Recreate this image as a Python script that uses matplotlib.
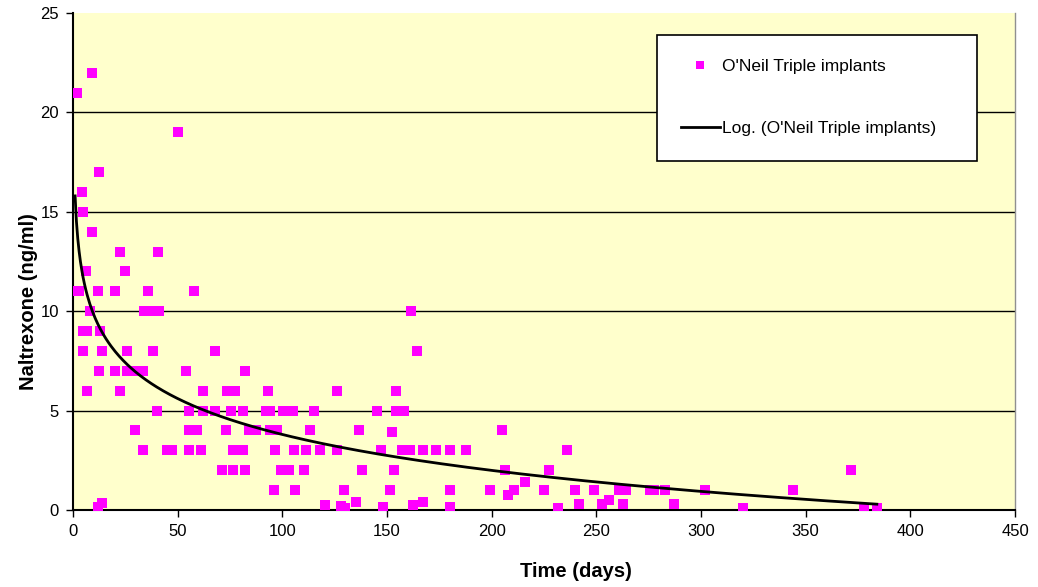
import numpy as np
import matplotlib
matplotlib.use('Agg')
import matplotlib.pyplot as plt

# O'Neil triple implants: days after implant vs naltrexone level (ng/ml)
days = [9, 1, 2, 50, 12.4, 4.4, 5, 9, 22.5, 40.6, 6.2, 25,
        1, 3, 12, 20, 36, 58,
        8, 34, 37, 41, 161.6,
        4.8, 6.7, 13,
        5, 14, 26, 38, 68, 164.5,
        12.5, 20, 26, 30, 33.5, 54, 82,
        6.5, 22.5, 62, 73.6, 77.5, 93, 126, 154.5,
        40, 55.5, 62, 68, 75.5, 81, 92, 94, 100.5, 105, 115, 145, 154.5, 158,
        29.6, 55.5, 59, 73, 84, 87.5, 94, 97.5, 113, 136.5, 152.5, 204.7,
        33.5, 45, 47.5, 55.5, 61, 76.5, 81, 96.6, 105.7, 111.4, 118, 126,
        147, 157, 161, 167, 173.6, 180, 187.5, 235.8,
        71, 76.5, 82, 99.5, 103, 110.5, 138, 153.5, 206.6, 227.6, 371.6,
        215.7,
        96, 106, 129.6, 151.6, 180, 199.4, 210.5, 225, 239.6, 248.7, 261, 264,
        275.5, 277.4, 282.6, 301.8, 344,
        208, 255.9,
        14, 120.5, 135, 162.6, 167, 241.5, 252.5, 262.5, 287,
        12, 128, 130, 148, 180, 231.5, 320, 378, 384]
naltrexone = [22, 21, 21, 19, 17, 16, 15, 14, 13, 13, 12, 12,
              11, 11, 11, 11, 11, 11,
              10, 10, 10, 10, 10,
              9, 9, 9,
              8, 8, 8, 8, 8, 8,
              7, 7, 7, 7, 7, 7, 7,
              6, 6, 6, 6, 6, 6, 6, 6,
              5, 5, 5, 5, 5, 5, 5, 5, 5, 5, 5, 5, 5, 5,
              4, 4, 4, 4, 4, 4, 4, 4, 4, 4, 3.9, 4,
              3, 3, 3, 3, 3, 3, 3, 3, 3, 3, 3, 3,
              3, 3, 3, 3, 3, 3, 3, 3,
              2, 2, 2, 2, 2, 2, 2, 2, 2, 2, 2,
              1.4,
              1, 1, 1, 1, 1, 1, 1, 1, 1, 1, 1, 1,
              1, 1, 1, 1, 1,
              0.75, 0.5,
              0.35, 0.25, 0.4, 0.25, 0.4, 0.3, 0.3, 0.3, 0.3,
              0.15, 0.2, 0.1, 0.15, 0.15, 0.1, 0.1, 0.1, 0.1]

# Excel logarithmic trendline y = a*ln(x) + b
trend_a = -2.606
trend_b = 15.8
trend_range = (1, 384)

plt.rcParams['font.family'] = ['Liberation Sans', 'DejaVu Sans']

fig = plt.figure(figsize=(10.38, 5.87), dpi=100)
ax = fig.add_axes([73 / 1038, 1 - 510 / 587, 942 / 1038, 497 / 587])
ax.set_facecolor('#FFFFCC')

ax.plot(days, naltrexone, 's', color='#FF00FF', markersize=7.8, markeredgewidth=0,
        label="O'Neil Triple implants", zorder=3)

tx = np.linspace(trend_range[0], trend_range[1], 600)
ax.plot(tx, trend_a * np.log(tx) + trend_b, color='black', lw=2.0,
        label="Log. (O'Neil Triple implants)", zorder=4)

ax.set_xlim(0, 450)
ax.set_ylim(0, 25)
ax.set_xticks(range(0, 451, 50))
ax.set_yticks(range(0, 26, 5))
for yv in range(5, 25, 5):
    ax.axhline(yv, color='black', lw=1.0, zorder=1)

ax.tick_params(labelsize=12, length=5, width=1, direction='out', pad=5)
for s in ['left', 'bottom']:
    ax.spines[s].set_linewidth(1.5)
ax.spines['top'].set_visible(False)
ax.spines['right'].set_color('#909090')
ax.spines['right'].set_linewidth(1)

ax.set_xlabel('Time (days)', fontsize=14.5, fontweight='bold')
ax.set_ylabel('Naltrexone (ng/ml)', fontsize=14.5, fontweight='bold')
ax.xaxis.set_label_coords((576 - 73) / 942, -(562 - 510) / 497)
ax.yaxis.set_label_coords(-(73 - 38) / 942, (510 - 302) / 497)

leg = ax.legend(loc='upper left', bbox_to_anchor=(0.62, 0.704, 0.34, 0.252), mode='expand',
                fontsize=12.5, frameon=True, fancybox=False, markerscale=0.7,
                labelspacing=2.7, borderpad=1.4, handlelength=2.2, handletextpad=0.12,
                borderaxespad=0)
leg.get_frame().set_edgecolor('black')
leg.get_frame().set_linewidth(1.2)
leg.get_frame().set_facecolor('white')
leg.get_frame().set_alpha(1)

fig.savefig('out.png', dpi=100)
